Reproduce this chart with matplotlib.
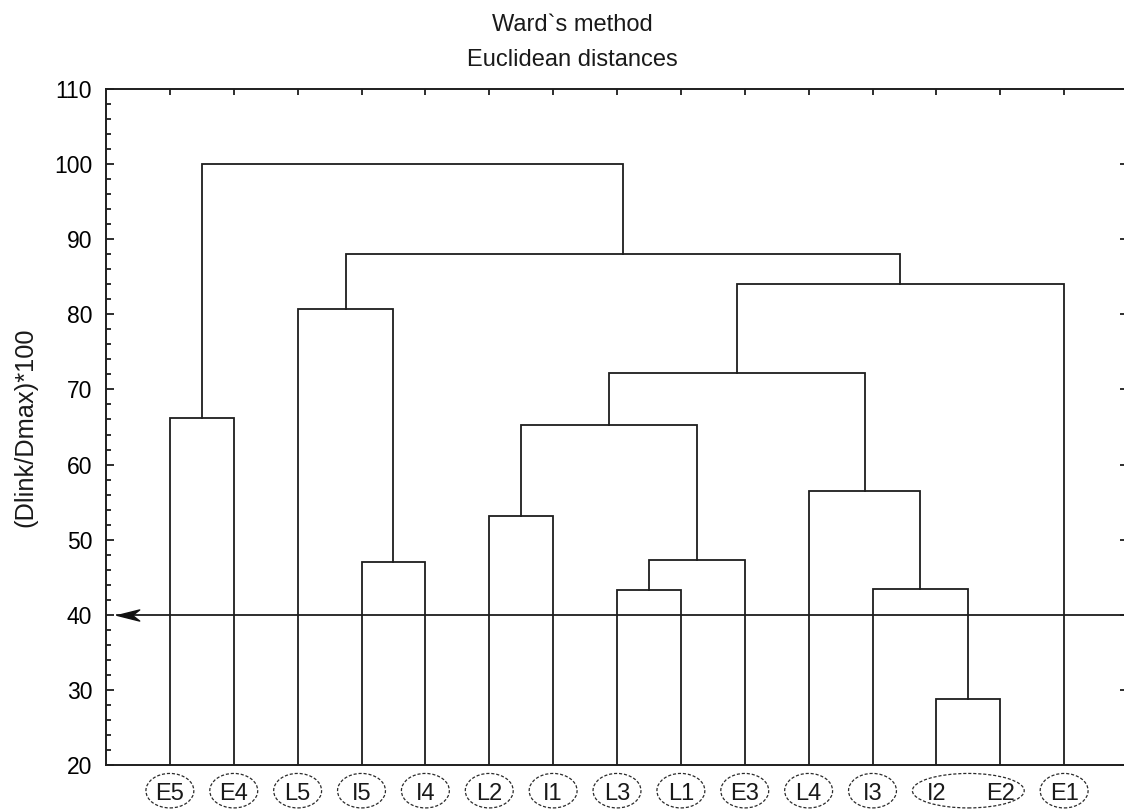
import matplotlib
matplotlib.use("Agg")
import matplotlib.pyplot as plt
from matplotlib.patches import Ellipse
from matplotlib.path import Path
from matplotlib.ticker import MultipleLocator, FixedLocator, NullLocator

# ---- data -------------------------------------------------------------
leaf_labels = ["E5", "E4", "L5", "I5", "I4", "L2", "I1", "L3",
               "L1", "E3", "L4", "I3", "I2", "E2", "E1"]

# Each merge joins two nodes: a leaf label or the index of an earlier merge
merge_left = ["E5", "I5", "L5", "L2", "L3", 4, 3, "I2", "I3", "L4", 6, 10, 2, 0]
merge_right = ["E4", "I4", 1, "I1", "L1", "E3", 5, "E2", 7, 8, 9, "E1", 11, 12]
merge_height = [66.2, 47.0, 80.7, 53.2, 43.3, 47.3, 65.2,
                28.8, 43.4, 56.5, 72.2, 84.0, 88.0, 100.0]

cut_level = 40
label_groups = [["E5"], ["E4"], ["L5"], ["I5"], ["I4"], ["L2"], ["I1"], ["L3"],
                ["L1"], ["E3"], ["L4"], ["I3"], ["I2", "E2"], ["E1"]]

title_lines = ["Ward`s method", "Euclidean distances"]
y_label = "(Dlink/Dmax)*100"
y_min, y_max = 20, 110

# ---- style ------------------------------------------------------------
plt.rcParams["font.family"] = ["Liberation Sans", "DejaVu Sans"]
line_kw = dict(color="#1e1e1e", lw=1.3, solid_capstyle="projecting",
               solid_joinstyle="miter")

fig = plt.figure(figsize=(11.24, 8.10), dpi=100)
ax = fig.add_axes([106 / 1124, 45 / 810, 1022 / 1124, 676 / 810])

leaf_pos = {name: i + 1 for i, name in enumerate(leaf_labels)}
node_xy = []


def node_coords(node):
    if isinstance(node, str):
        return leaf_pos[node], y_min
    return node_xy[node]


for a, b, h in zip(merge_left, merge_right, merge_height):
    xa, ya = node_coords(a)
    xb, yb = node_coords(b)
    ax.plot([xa, xa, xb, xb], [ya, h, h, yb], **line_kw)
    node_xy.append(((xa + xb) / 2, h))

# cut-off line with arrow head at the left end
ytrans = ax.get_yaxis_transform()
ax.plot([0.0108, 1.0], [cut_level, cut_level], transform=ytrans,
        clip_on=False, **line_kw)
stealth = Path([(0, 0), (1, 0.25), (0.68, 0), (1, -0.25), (0, 0)],
               [Path.MOVETO, Path.LINETO, Path.LINETO, Path.LINETO, Path.CLOSEPOLY])
ax.plot([0.0108], [cut_level], transform=ytrans, marker=stealth,
        markersize=32, color="#111111", markeredgewidth=1.0, clip_on=False)

# ---- axes -------------------------------------------------------------
ax.set_xlim(0, len(leaf_labels) + 1)
ax.set_ylim(y_min, y_max)

ax.yaxis.set_major_locator(MultipleLocator(10))
ax.yaxis.set_minor_locator(MultipleLocator(2))
ax.xaxis.set_major_locator(FixedLocator(list(leaf_pos.values())))
ax.xaxis.set_minor_locator(NullLocator())
ax.tick_params(axis="y", which="both", direction="in", left=True, right=True,
               labelleft=True, labelright=False, color="#1e1e1e", width=1.3)
ax.tick_params(axis="y", which="major", length=5.5, pad=10, labelsize=16.5,
               labelcolor="black")
ax.tick_params(axis="y", which="minor", length=3.5)
ax.tick_params(axis="y", which="minor", right=False)
ax.tick_params(axis="x", which="both", direction="in", top=True, bottom=False,
               labelbottom=False, length=4, width=1.3, color="#1e1e1e")
for s in ax.spines.values():
    s.set_linewidth(1.4)
    s.set_color("#1e1e1e")

ax.set_ylabel(y_label, fontsize=18.3, va="center", color="#1a1a1a")
ax.yaxis.set_label_coords(-0.079, 0.5)

# leaf labels in dashed ellipses below the axis
xtrans = ax.get_xaxis_transform()
for group in label_groups:
    xs = [leaf_pos[g] for g in group]
    for g in group:
        ax.text(leaf_pos[g], -0.0515, g, transform=xtrans, ha="center",
                va="baseline", fontsize=17, color="#1a1a1a", clip_on=False)
    cx = (min(xs) + max(xs)) / 2
    w = (max(xs) - min(xs)) + 0.75
    ax.add_patch(Ellipse((cx, -0.038), w, 0.051, transform=xtrans, fill=False,
                         edgecolor="#2a2a2a", lw=0.9, linestyle=(0, (2.5, 1.5)),
                         clip_on=False))

fig.text(572 / 1124, 1 - 31 / 810, title_lines[0], ha="center", va="baseline",
         fontsize=17, color="#1a1a1a")
fig.text(572 / 1124, 1 - 65.7 / 810, title_lines[1], ha="center", va="baseline",
         fontsize=17, color="#1a1a1a")

fig.savefig("out.png", dpi=100)
